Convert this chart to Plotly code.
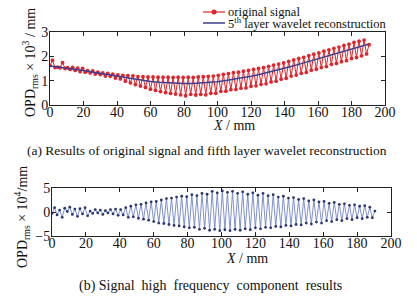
import plotly.graph_objects as go

# ---------------- data ----------------
x_mm = [round(1.5 * i, 1) for i in range(128)]

original_signal = [
    1.62, 1.84, 1.54, 1.56, 1.53, 1.74, 1.50, 1.53, 1.46, 1.55,
    1.42, 1.51, 1.37, 1.50, 1.35, 1.41, 1.32, 1.40, 1.27, 1.35,
    1.25, 1.32, 1.19, 1.30, 1.18, 1.27, 1.11, 1.24, 1.07, 1.22,
    0.98, 1.21, 0.91, 1.20, 0.84, 1.17, 0.78, 1.16, 0.72, 1.15,
    0.65, 1.15, 0.60, 1.14, 0.55, 1.14, 0.51, 1.14, 0.48, 1.13,
    0.45, 1.14, 0.42, 1.13, 0.38, 1.14, 0.44, 1.13, 0.41, 1.15,
    0.44, 1.16, 0.42, 1.18, 0.48, 1.19, 0.48, 1.22, 0.56, 1.26,
    0.57, 1.29, 0.63, 1.33, 0.64, 1.35, 0.69, 1.39, 0.70, 1.42,
    0.77, 1.46, 0.79, 1.50, 0.85, 1.54, 0.87, 1.59, 0.95, 1.64,
    0.98, 1.68, 1.06, 1.73, 1.10, 1.79, 1.19, 1.85, 1.23, 1.91,
    1.30, 1.96, 1.34, 2.03, 1.43, 2.09, 1.47, 2.14, 1.54, 2.21,
    1.58, 2.26, 1.67, 2.33, 1.71, 2.38, 1.78, 2.45, 1.82, 2.50,
    1.91, 2.57, 1.95, 2.62, 2.02, 2.67, 2.10, 2.48,
]

recon_x = [0, 5, 10, 15, 20, 25, 30, 35, 40, 45, 50, 55, 60, 65, 70, 75, 80, 85, 90, 95,
           100, 105, 110, 115, 120, 125, 130, 135, 140, 145, 150, 155, 160, 165, 170, 175,
           180, 185, 190]
recon = [1.60, 1.56, 1.52, 1.47, 1.42, 1.36, 1.30, 1.25, 1.19, 1.13, 1.07, 1.02, 0.97,
         0.94, 0.91, 0.89, 0.88, 0.88, 0.90, 0.92, 0.96, 1.01, 1.06, 1.12, 1.18, 1.25,
         1.33, 1.41, 1.50, 1.60, 1.70, 1.80, 1.90, 2.00, 2.10, 2.20, 2.30, 2.40, 2.50]

high_freq = [
    -0.3, 0.9, -0.6, 0.4, -1.1, 0.8, 0.1, 1.0, -0.5, 0.6,
    -0.9, 0.7, -0.4, 0.9, -0.8, 0.2, -0.3, 0.5, -0.2, 0.4,
    -0.5, 0.3, -0.2, 0.5, -0.4, 0.6, -0.7, 0.5, -0.6, 0.9,
    -1.1, 1.2, -1.0, 1.5, -1.3, 1.6, -1.5, 1.9, -1.7, 2.1,
    -2.0, 2.2, -2.3, 2.5, -2.4, 2.8, -2.6, 2.9, -2.8, 3.1,
    -2.9, 3.3, -3.1, 3.2, -3.3, 3.6, -3.2, 3.4, -3.6, 3.9,
    -3.4, 3.7, -3.8, 4.3, -3.6, 4.0, -3.9, 4.4, -3.7, 4.1,
    -3.9, 4.3, -3.6, 3.9, -3.8, 4.2, -3.5, 3.7, -3.7, 4.0,
    -3.3, 3.5, -3.5, 3.9, -3.2, 3.4, -3.3, 3.6, -3.0, 3.1,
    -3.1, 3.3, -2.8, 2.9, -2.9, 3.0, -2.6, 2.6, -2.7, 2.8,
    -2.3, 2.3, -2.5, 2.5, -2.1, 2.1, -2.3, 2.2, -1.8, 1.8,
    -2.0, 2.0, -1.6, 1.6, -1.8, 1.7, -1.4, 1.4, -1.6, 1.5,
    -1.2, 1.2, -1.4, 1.3, -1.1, 1.0, -1.2, 0.2,
]

x_ticks = [0, 20, 40, 60, 80, 100, 120, 140, 160, 180, 200]
top_y_ticks = [0, 1, 2, 3]
bot_y_ticks = [-5, 0, 5]
bot_y_labels = ["\u22125", "0", "5"]
legend_labels = ["original signal", "5<sup>th</sup> layer wavelet reconstruction"]

# ---------------- figure ----------------
FONT = "Liberation Serif, Times New Roman, serif"
RED = "#e3242b"
NAVY = "#3b3f8f"
W, H = 417, 298

fig = go.Figure()

fig.add_trace(go.Scatter(
    x=x_mm, y=original_signal, mode="lines+markers", name=legend_labels[0],
    line=dict(color=RED, width=1), marker=dict(color=RED, size=3.8),
    xaxis="x", yaxis="y", showlegend=False))
fig.add_trace(go.Scatter(
    x=recon_x, y=recon, mode="lines", name=legend_labels[1],
    line=dict(color=NAVY, width=1.5), xaxis="x", yaxis="y", showlegend=False))
fig.add_trace(go.Scatter(
    x=x_mm, y=high_freq, mode="lines+markers", showlegend=False,
    line=dict(color="#7385c8", width=0.9), marker=dict(color="#2c3670", size=2.8),
    xaxis="x2", yaxis="y2"))

axis_common = dict(
    showline=True, linecolor="#222", linewidth=1, mirror="ticks",
    ticks="inside", ticklen=4, tickcolor="#222", showgrid=False, zeroline=False,
    automargin=False,
    tickfont=dict(family=FONT, size=14, color="#111"),
)

fig.update_layout(
    width=W, height=H,
    margin=dict(l=0, r=0, t=0, b=0, autoexpand=False),
    paper_bgcolor="white", plot_bgcolor="white",
    font=dict(family=FONT, color="#111"),
    showlegend=False,
    xaxis=dict(domain=[50 / W, 385 / W], range=[0, 200], tickvals=x_ticks,
               anchor="y", ticklabelstandoff=-6, **axis_common),
    yaxis=dict(domain=[1 - 105 / H, 1 - 32 / H], range=[0, 3], tickvals=top_y_ticks,
               anchor="x", ticklabelstandoff=-2, **axis_common),
    xaxis2=dict(domain=[52 / W, 391 / W], range=[0, 200], tickvals=x_ticks,
                anchor="y2", ticklabelstandoff=-6, **axis_common),
    yaxis2=dict(domain=[1 - 236 / H, 1 - 188 / H], range=[-5, 5], tickvals=bot_y_ticks,
                ticktext=bot_y_labels, anchor="x2", ticklabelstandoff=-2, **axis_common),
)

# ---- axis titles (placed as annotations) ----
def label(text, px, py, size, angle=0):
    fig.add_annotation(text=text, x=px / W, y=1 - py / H, xref="paper", yref="paper",
                       showarrow=False, xanchor="center", yanchor="middle", textangle=angle,
                       font=dict(family=FONT, size=size, color="#111"))

label("OPD<sub>rms</sub> × 10<sup>3</sup> / mm", 30, 63, 14, -90)
label("OPD<sub>rms</sub> × 10<sup>4</sup>/mm", 22, 217, 14, -90)
label("<i>X</i> / mm", 234, 125, 14)
label("<i>X</i> / mm", 247, 258, 14)

# ---- hand-drawn legend (sample lines + labels) ----
leg_rows = [(12, RED, True), (23, NAVY, False)]
for (py, col, has_marker), text in zip(leg_rows, legend_labels):
    yy = 1 - py / H
    fig.add_shape(type="line", xref="paper", yref="paper",
                  x0=203 / W, x1=225 / W, y0=yy, y1=yy,
                  line=dict(color=col, width=1.5 if not has_marker else 1.2))
    if has_marker:
        fig.add_shape(type="circle", xref="paper", yref="paper",
                      x0=211.5 / W, x1=216.5 / W, y0=yy - 2.5 / H, y1=yy + 2.5 / H,
                      line=dict(color=col, width=0), fillcolor=col)
    fig.add_annotation(text=text, x=226 / W, y=yy, xref="paper", yref="paper",
                       showarrow=False, xanchor="left", yanchor="middle",
                       font=dict(family=FONT, size=12.5, color="#111"))

label("(a) Results of original signal and fifth layer wavelet reconstruction", 207, 150, 13.5)
label("(b) Signal  high  frequency  component  results", 211, 286, 14)

fig.write_html("out.html", config={"displayModeBar": False},
               post_script="document.body.style.margin='0px';document.body.style.overflow='hidden';")
